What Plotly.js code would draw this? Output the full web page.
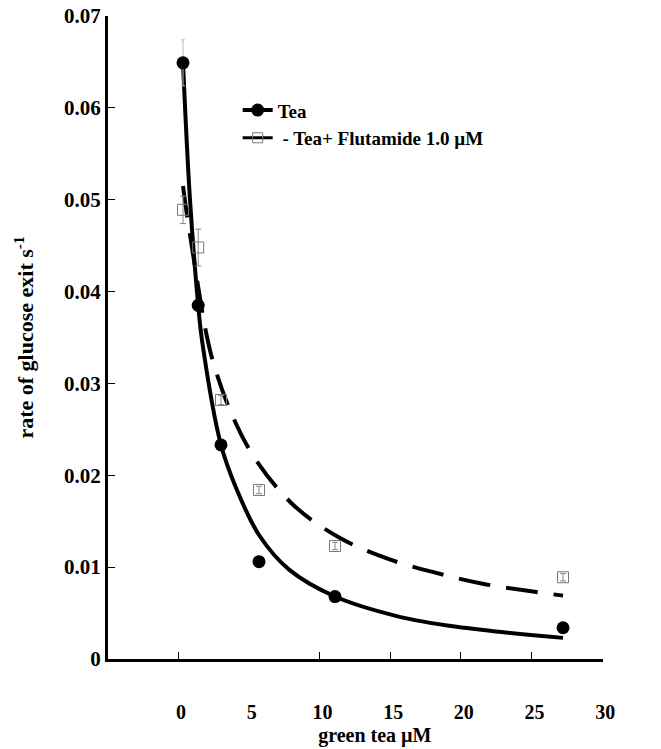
<!DOCTYPE html>
<html>
<head>
<meta charset="utf-8">
<script src="https://cdn.plot.ly/plotly-3.0.1.min.js"></script>
<style>html,body{margin:0;padding:0;background:#fff;}#chart{width:661px;height:749px;}</style>
</head>
<body>
<div id="chart"></div>
<script>
// Measured points
const teaX = [0, 1, 2.5, 5, 10, 25];
const teaY = [0.0649, 0.0385, 0.0233, 0.0106, 0.0068, 0.0034];
const teaErr = [0.0025, 0.0004, 0.0003, 0.0006, 0.0002, 0.0002];

const flutX = [0, 1, 2.5, 5, 10, 25];
const flutY = [0.0489, 0.0448, 0.0282, 0.0184, 0.0123, 0.0089];
const flutErr = [0.0015, 0.0020, 0.0005, 0.0004, 0.0004, 0.0004];

// Fitted curves
const teaFitX = [0, 0.46, 1, 1.25, 2.5, 3.5, 5, 7, 10, 14, 18, 25];
const teaFitY = [0.0649, 0.0500, 0.0385, 0.0347, 0.0233, 0.0186, 0.0135, 0.0097, 0.0068, 0.0047, 0.0035, 0.0023];

const flutFitX = [0, 0.26, 1.51, 1.97, 3.09, 4.67, 7.24, 10.3, 13.5, 16.6, 19.7, 22.8, 25];
const flutFitY = [0.0515, 0.0484, 0.0356, 0.0324, 0.0271, 0.0220, 0.0168, 0.0132, 0.0109, 0.0094, 0.0082, 0.0074, 0.0069];

// Axis labels (label scale of the printed axis)
const xTickVals = [0, 5, 10, 15, 20, 25, 30];
const xTickText = ['0', '5', '10', '15', '20', '25', '30'];
const xTickMarks = [0, 10, 15, 20, 25, 30];
const yTickVals = [0, 0.01, 0.02, 0.03, 0.04, 0.05, 0.06, 0.07];
const yTickText = ['0', '0.01', '0.02', '0.03', '0.04', '0.05', '0.06', '0.07'];

const seriesNames = ['Tea', ' - Tea+ Flutamide 1.0 \u00b5M'];
const xTitle = 'green tea \u00b5M';
const yTitle = 'rate of glucose exit s<sup>-1</sup>';

const FONT = 'Liberation Serif, Times New Roman, serif';

const traces = [
  // printed axis labels, tick marks and title (helpers, drawn first)
  {x: [null], y: [null], xaxis: 'x4', mode: 'lines', showlegend: false, hoverinfo: 'skip'},
  {x: [null], y: [null], xaxis: 'x2', mode: 'lines', showlegend: false, hoverinfo: 'skip'},
  {x: [null], y: [null], xaxis: 'x3', mode: 'lines', showlegend: false, hoverinfo: 'skip'},
  {x: teaFitX, y: teaFitY, mode: 'lines', line: {color: '#000', width: 4, shape: 'spline', smoothing: 1}, showlegend: false, hoverinfo: 'skip'},
  {x: flutFitX, y: flutFitY, mode: 'lines', line: {color: '#000', width: 4, shape: 'spline', smoothing: 1, dash: '32px,16px'}, showlegend: false, hoverinfo: 'skip'},
  {x: flutX, y: flutY, mode: 'markers', showlegend: false,
   marker: {symbol: 'square-open', size: 11, color: '#777', line: {width: 1, color: '#777'}},
   error_y: {type: 'data', array: flutErr, visible: true, color: '#888', thickness: 1, width: 3}},
  {x: teaX, y: teaY, mode: 'markers', showlegend: false,
   marker: {symbol: 'circle', size: 13, color: '#000'},
   error_y: {type: 'data', array: teaErr, visible: true, color: '#bbb', thickness: 1, width: 2}},
  // legend entries
  {x: [null], y: [null], mode: 'lines+markers', name: seriesNames[0],
   line: {color: '#000', width: 4}, marker: {symbol: 'circle', size: 13, color: '#000'}},
  {x: [null], y: [null], mode: 'lines+markers', name: seriesNames[1],
   line: {color: '#000', width: 3}, marker: {symbol: 'square-open', size: 10, color: '#777', line: {width: 1, color: '#777'}}}
];

const layout = {
  width: 661, height: 749,
  margin: {l: 108, r: 58, t: 16, b: 90},
  paper_bgcolor: '#fff', plot_bgcolor: 'rgba(0,0,0,0)',
  font: {family: FONT, color: '#000', size: 19},
  showlegend: true,
  legend: {x: 0.262, y: 0.883, xanchor: 'left', yanchor: 'top', bgcolor: 'rgba(0,0,0,0)',
           font: {family: FONT, size: 19, weight: 'bold', color: '#000'}, tracegroupgap: 0},
  xaxis: {
    range: [-4.934, 27.63], showgrid: false, zeroline: false,
    showline: true, linecolor: '#000', linewidth: 3,
    showticklabels: false, ticks: ''
  },
  xaxis2: {
    range: [-4.95, 30.05], overlaying: 'x', anchor: 'y', side: 'bottom',
    showgrid: false, zeroline: false, showline: false,
    tickvals: xTickVals, ticktext: xTickText, ticks: '',
    ticklabelstandoff: 39, ticklabelshift: 3,
    tickfont: {family: FONT, size: 20, weight: 'bold'}
  },
  xaxis3: {
    range: [-4.95, 30.05], overlaying: 'x', anchor: 'y', side: 'bottom',
    showgrid: false, zeroline: false, showline: false,
    tickvals: xTickMarks, showticklabels: false,
    ticks: 'inside', ticklen: 7, tickwidth: 1, tickcolor: '#000'
  },
  xaxis4: {
    domain: [0.078, 1], anchor: 'y', side: 'bottom',
    showgrid: false, zeroline: false, showline: false,
    showticklabels: false, ticks: '',
    title: {text: xTitle, font: {family: FONT, size: 20, weight: 'bold'}, standoff: 68}
  },
  yaxis: {
    range: [0, 0.07], showgrid: false, zeroline: false,
    showline: true, linecolor: '#000', linewidth: 3,
    tickvals: yTickVals, ticktext: yTickText,
    ticks: 'inside', ticklen: 7, tickwidth: 1, tickcolor: '#000',
    tickfont: {family: FONT, size: 21, weight: 'bold'},
    title: {text: yTitle, font: {family: FONT, size: 22, weight: 'bold'}, standoff: 25}
  }
};

Plotly.newPlot('chart', traces, layout, {displayModeBar: false, staticPlot: true});
</script>
</body>
</html>
